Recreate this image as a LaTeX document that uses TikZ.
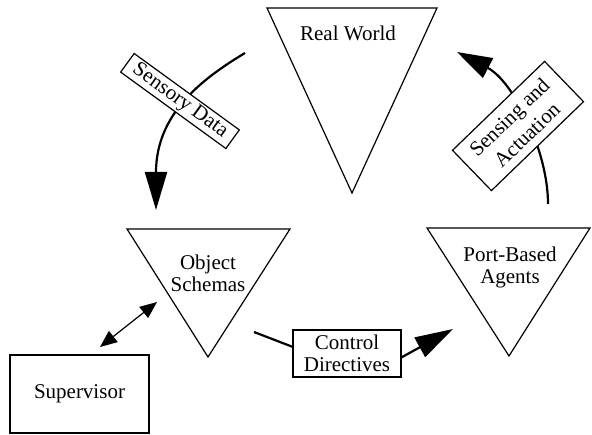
\documentclass[tikz,border=0pt]{standalone}
\usepackage{fontspec}
\setmainfont{Liberation Serif}
\usetikzlibrary{arrows.meta}
\begin{document}
\begin{tikzpicture}[x=1pt,y=-1pt,
  tri/.style={draw,line width=1.2pt,line join=miter},
  lbl/.style={font=\fontsize{21}{22}\selectfont,align=center,inner sep=0pt},
  box/.style={draw,fill=white,line width=1.2pt,font=\fontsize{21}{22}\selectfont,align=center,inner sep=0pt},
  flow/.style={line width=2.2pt,-{Triangle[length=38pt,width=22pt]}},
]
\useasboundingbox (0,0) rectangle (592,435);
% triangles
\draw[tri] (267,8) -- (437,8) -- (352,193) -- cycle;
\node[lbl] (rw) at (348,33) {Real World};
\draw[tri] (127,229) -- (290,229) -- (208,357) -- cycle;
\node[lbl] (os) at (208,273) {Object\\Schemas};
\draw[tri] (427,228) -- (590,228) -- (509,356) -- cycle;
\node[lbl] (pb) at (510,267) {Port-Based\\Agents};
% coordinates for free ends
\coordinate (sdA) at (245,53);
\coordinate (sdB) at (156,210);
\coordinate (saA) at (548,204);
\coordinate (saB) at (457,52);
\coordinate (cdA) at (254,332);
\coordinate (cdB) at (453,329);
\coordinate (svA) at (100,347);
\coordinate (svB) at (157,302);
% curved flows (drawn below the label boxes)
\draw[flow] (sdA) .. controls (200,80) and (156,115) .. (sdB);
\draw[flow,-{Triangle[length=35pt,width=22pt]}] (saA) .. controls (548,150) and (513,81) .. (saB);
% label boxes
\node[box,rotate=-36,minimum width=130pt,minimum height=23pt] (sd) at (180,101) {Sensory Data};
\node[box,rotate=44,minimum width=128pt,minimum height=56pt,font=\fontsize{21}{25}\selectfont] (sa) at (518,126) {Sensing and\\Actuation};
\node[box,minimum width=108pt,minimum height=47pt] (cd) at (347,353.5) {Control\\Directives};
\node[box,minimum width=139pt,minimum height=78pt] (sv) at (79.5,394) {Supervisor};
% control directive connectors
\draw[line width=2.2pt] (cdA) -- (cd.173);
\draw[flow] (cd.-4) -- (cdB);
% supervisor link
\draw[line width=1.2pt,{Triangle[length=17pt,width=14pt]}-{Triangle[length=17pt,width=14pt]}] (svA) -- (svB);
\end{tikzpicture}
\end{document}
